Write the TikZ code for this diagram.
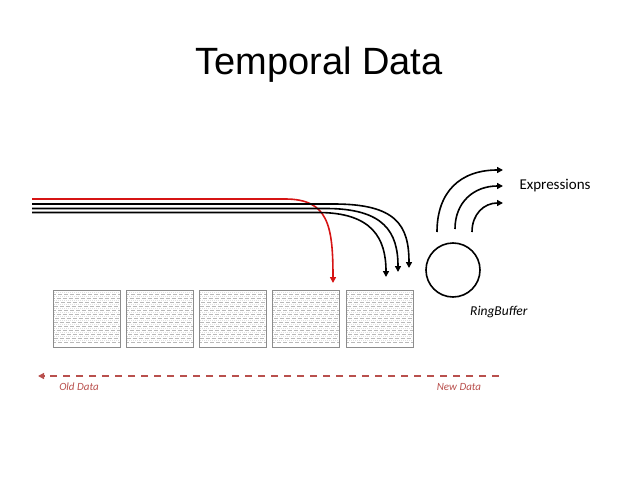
\documentclass[tikz,border=0pt]{standalone}
\usepackage{fontspec}
\setmainfont{Carlito}
\newfontfamily\titlefont{Liberation Sans}
\usepackage{tikz}
\usetikzlibrary{arrows.meta,positioning,calc}
\definecolor{flowred}{RGB}{214,20,20}
\definecolor{agered}{RGB}{185,80,77}

\tikzset{
    slot/.style={draw=gray!90, line width=0.9pt, minimum width=67pt, minimum height=57pt, inner sep=0pt,
        path picture={
            \foreach \k in {1,...,13} {
                \draw[gray!55, line width=0.45pt, dash pattern=on 4pt off 2pt, dash phase=\k*1.5pt]
                    ([yshift=-\k*4pt]path picture bounding box.north west) -- ([yshift=-\k*4pt]path picture bounding box.north east);
                \draw[gray!25, line width=0.45pt, dash pattern=on 1pt off 1pt]
                    ([yshift=-\k*4pt+2pt]path picture bounding box.north west) -- ([yshift=-\k*4pt+2pt]path picture bounding box.north east);
            }
        }},
    stream/.style={line width=1.6pt, -{Triangle[length=6pt,width=6pt]}},
}

\begin{document}
\begin{tikzpicture}[x=1pt, y=-1pt, font=\fontsize{15}{17}\selectfont]
    \useasboundingbox (0,0) rectangle (638,479);

    % Title
    \node[font=\titlefont\fontsize{38}{44}\selectfont] (title) at (319,65) {Temporal Data};

    % Ring buffer slots
    \foreach \i/\x in {1/87, 2/160, 3/233, 4/306, 5/380} {
        \node[slot] (s\i) at (\x,318.5) {};
    }

    % Ring buffer
    \node[circle, draw, line width=1.6pt, minimum size=54pt, inner sep=0pt] (ring) at (453,270) {};
    \node[font=\itshape\fontsize{13.5}{15}\selectfont, below right=13pt and -6pt of ring.south east] (rblabel) {RingBuffer};

    % Incoming streams
    \coordinate (in0) at (32,199);
    \coordinate (in1) at (32,204);
    \coordinate (in2) at (32,208.5);
    \coordinate (in3) at (32,212.5);
    \coordinate (hit0) at (333,283);
    \coordinate (hit1) at (409,268);
    \coordinate (hit2) at (398,272);
    \coordinate (hit3) at (386,277);

    \draw[stream, flowred] (in0) -- (285,199) .. controls (328,199) and (333,225) .. (hit0);
    \draw[stream] (in1) -- (334,204) .. controls (396,204) and (409,225) .. (hit1);
    \draw[stream] (in2) -- (326,208.5) .. controls (384,208.5) and (398,232) .. (hit2);
    \draw[stream] (in3) -- (318,212.5) .. controls (372,212.5) and (386,238) .. (hit3);

    % Outgoing expressions
    \coordinate (out1) at (437,232);
    \coordinate (out2) at (455,229);
    \coordinate (out3) at (472,232);
    \node[anchor=west] (expr) at (516,186) {Expressions};
    \coordinate (end1) at (503,170);
    \coordinate (end2) at (503,186);
    \coordinate (end3) at (503,203);

    \draw[stream] (out1) .. controls (437,192) and (460,170) .. (end1);
    \draw[stream] (out2) .. controls (455,202) and (474,186) .. (end2);
    \draw[stream] (out3) .. controls (472,214) and (484,203) .. (end3);

    % Age axis
    \coordinate (newest) at (499,376);
    \coordinate (oldest) at (38,376);
    \draw[agered, line width=1.3pt, dash pattern=on 7pt off 6pt, -{Triangle[length=6pt,width=6pt]}] (newest) -- (oldest);
    \node[agered, font=\itshape\fontsize{11}{13}\selectfont] (old) at (79,387) {Old Data};
    \node[agered, font=\itshape\fontsize{11}{13}\selectfont] (new) at (459,387) {New Data};
\end{tikzpicture}
\end{document}
